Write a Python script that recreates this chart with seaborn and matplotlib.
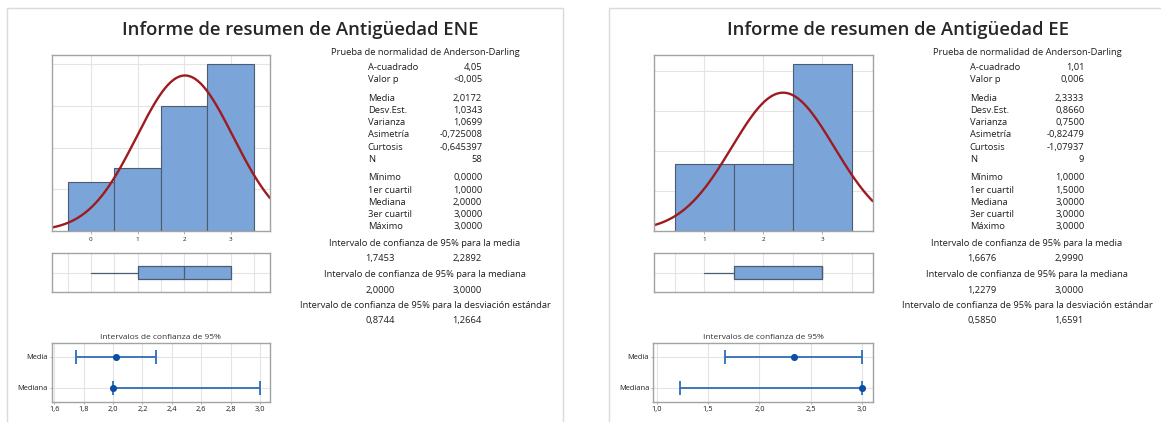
import numpy as np
import pandas as pd
import matplotlib
matplotlib.use("Agg")
import matplotlib.pyplot as plt
from matplotlib.patches import Rectangle
import seaborn as sns

sns.set_theme(style="white")
plt.rcParams["font.family"] = ["Open Sans", "DejaVu Sans"]

# ---------------- data ----------------
titles = ["Informe de resumen de Antigüedad ENE", "Informe de resumen de Antigüedad EE"]

ene_values = [0, 1, 2, 3]
ene_counts = [7, 9, 18, 24]
ee_values = [1, 2, 3]
ee_counts = [2, 2, 5]

ene_mean, ene_sd = 2.0172, 1.0343
ee_mean, ee_sd = 2.3333, 0.8660

# five-number summaries: min, Q1, median, Q3, max
ene_five = [0.0, 1.0, 2.0, 3.0, 3.0]
ee_five = [1.0, 1.5, 3.0, 3.0, 3.0]

# 95% confidence intervals (low, high) for mean and median
ene_ci_mean = [1.7453, 2.2892]
ene_ci_median = [2.0, 3.0]
ee_ci_mean = [1.6676, 2.9990]
ee_ci_median = [1.2279, 3.0]

ene_ci_sd = ["0,8744", "1,2664"]
ee_ci_sd = ["0,5850", "1,6591"]

ene_hist_grid = [6, 12, 18, 24]
ee_hist_grid = [1.2, 2.4, 3.6, 4.8]

ene_ci_ticks = [1.6, 1.8, 2.0, 2.2, 2.4, 2.6, 2.8, 3.0]
ee_ci_ticks = [1.0, 1.5, 2.0, 2.5, 3.0]

stat_groups_labels = [
    ["A-cuadrado", "Valor p"],
    ["Media", "Desv.Est.", "Varianza", "Asimetría", "Curtosis", "N"],
    ["Mínimo", "1er cuartil", "Mediana", "3er cuartil", "Máximo"],
]
ene_stat_values = [
    ["4,05", "<0,005"],
    ["2,0172", "1,0343", "1,0699", "-0,725008", "-0,645397", "58"],
    ["0,0000", "1,0000", "2,0000", "3,0000", "3,0000"],
]
ee_stat_values = [
    ["1,01", "0,006"],
    ["2,3333", "0,8660", "0,7500", "-0,82479", "-1,07937", "9"],
    ["1,0000", "1,5000", "3,0000", "3,0000", "3,0000"],
]
ci_headings = [
    "Intervalo de confianza de 95% para la media",
    "Intervalo de confianza de 95% para la mediana",
    "Intervalo de confianza de 95% para la desviación estándar",
]
ci_row_labels = ["Media", "Mediana"]

# ---------------- style ----------------
W, H = 1161, 422
BAR = "#7BA4D9"
BAR_EDGE = "#4B5B70"
CURVE = "#9E1C20"
CI_LINE = "#2F6DB5"
CI_DOT = "#0A4FA3"
GRID = "#E4E4E4"
FRAME = "#A3A3A3"
TEXT = "#1E1E1E"


def fx(x):
    return x / W


def fy(y):
    return 1 - y / H


def rect(x0, y0, x1, y1):
    return [fx(x0), fy(y1), (x1 - x0) / W, (y1 - y0) / H]


def frame(ax):
    for s in ax.spines.values():
        s.set_visible(True)
        s.set_color(FRAME)
        s.set_linewidth(1.0)


def fmt(v, nd):
    return f"{v:.{nd}f}".replace(".", ",")


fig = plt.figure(figsize=(W / 100, H / 100), dpi=100)
fig.patch.set_facecolor("white")

# panel outlines
fig.patches.append(Rectangle((fx(7), fy(430)), (563 - 7) / W, (430 - 8) / H,
                             transform=fig.transFigure, fill=False,
                             edgecolor="#DADADA", linewidth=1.0))
fig.patches.append(Rectangle((fx(609), fy(430)), (1170 - 609) / W, (430 - 8) / H,
                             transform=fig.transFigure, fill=False,
                             edgecolor="#DADADA", linewidth=1.0))

panels = [
    dict(values=ene_values, counts=ene_counts, mean=ene_mean, sd=ene_sd,
         five=ene_five, ci_mean=ene_ci_mean, ci_median=ene_ci_median,
         ci_sd=ene_ci_sd, grid=ene_hist_grid, ci_ticks=ene_ci_ticks,
         ci_nd=1, stats=ene_stat_values, title=titles[0],
         xlim=(-0.84, 3.84), ci_xlim=(1.582, 3.068), dx=0,
         hx=(51.7, 270), cx=(51.7, 270)),
    dict(values=ee_values, counts=ee_counts, mean=ee_mean, sd=ee_sd,
         five=ee_five, ci_mean=ee_ci_mean, ci_median=ee_ci_median,
         ci_sd=ee_ci_sd, grid=ee_hist_grid, ci_ticks=ee_ci_ticks,
         ci_nd=1, stats=ee_stat_values, title=titles[1],
         xlim=(0.15, 3.85), ci_xlim=(0.967, 3.107), dx=602,
         hx=(654, 872.7), cx=(653.3, 873.3)),
]

for p in panels:
    dx = p["dx"]
    n = sum(p["counts"])

    # title
    fig.text(fx(300 + dx * 0.993), fy(30), p["title"], ha="center", va="center",
             fontsize=13.3, fontweight="semibold", color="#262626")

    # ---------- histogram with fitted normal curve ----------
    axh = fig.add_axes(rect(p["hx"][0], 55, p["hx"][1], 231))
    freq = pd.DataFrame({"valor": p["values"], "frecuencia": p["counts"]})
    sns.histplot(data=freq, x="valor", weights="frecuencia", discrete=True,
                 ax=axh, color=BAR, edgecolor=BAR_EDGE, linewidth=0.8, alpha=1.0)
    xs = np.linspace(p["xlim"][0], p["xlim"][1], 400)
    ys = n * np.exp(-0.5 * ((xs - p["mean"]) / p["sd"]) ** 2) / (p["sd"] * np.sqrt(2 * np.pi))
    sns.lineplot(x=xs, y=ys, ax=axh, color=CURVE, linewidth=1.7)
    axh.set_xlim(*p["xlim"])
    top = max(p["counts"]) * 1.055
    axh.set_ylim(0, top)
    axh.set_xticks(p["values"])
    axh.set_xticklabels([str(v) for v in p["values"]])
    axh.set_yticks(p["grid"])
    axh.set_yticklabels([])
    axh.grid(True, color=GRID, linewidth=0.8)
    axh.set_axisbelow(True)
    axh.tick_params(axis="x", length=2, width=0.6, color=FRAME, labelsize=4.5,
                    pad=2, labelcolor=TEXT, bottom=True)
    axh.tick_params(axis="y", length=0)
    axh.set_xlabel("")
    axh.set_ylabel("")
    frame(axh)

    # ---------- box plot ----------
    axb = fig.add_axes(rect(p["hx"][0], 253.3, p["hx"][1], 291.7))
    mn, q1, med, q3, mx = p["five"]
    axb.bxp([dict(whislo=mn, q1=q1, med=med, q3=q3, whishi=mx, fliers=[])],
            positions=[0], widths=0.34, orientation="horizontal",
            patch_artist=True, showcaps=False,
            boxprops=dict(facecolor=BAR, edgecolor=BAR_EDGE, linewidth=0.9),
            medianprops=dict(color=BAR_EDGE, linewidth=0.9),
            whiskerprops=dict(color=BAR_EDGE, linewidth=0.9))
    axb.set_xlim(*p["xlim"])
    axb.set_ylim(-0.5, 0.5)
    axb.set_xticks(np.arange(np.ceil(p["xlim"][0] * 2) / 2, p["xlim"][1], 0.5))
    axb.set_yticks([0])
    axb.set_xticklabels([])
    axb.set_yticklabels([])
    axb.tick_params(length=0)
    axb.grid(True, color=GRID, linewidth=0.8)
    axb.set_axisbelow(True)
    frame(axb)

    # ---------- confidence intervals ----------
    axc = fig.add_axes(rect(p["cx"][0], 342.7, p["cx"][1], 401.7))
    pts = [p["mean"], p["five"][2]]
    los = [p["ci_mean"][0], p["ci_median"][0]]
    his = [p["ci_mean"][1], p["ci_median"][1]]
    ypos = [0, 1]
    axc.errorbar(pts, ypos,
                 xerr=[np.array(pts) - np.array(los), np.array(his) - np.array(pts)],
                 fmt="none", ecolor=CI_LINE, elinewidth=1.3, capsize=4.7,
                 capthick=1.3, zorder=3)
    sns.scatterplot(x=pts, y=ypos, ax=axc, color=CI_DOT, s=26,
                    edgecolor=CI_DOT, linewidth=0, zorder=4)
    axc.set_xlim(*p["ci_xlim"])
    axc.set_ylim(1.45, -0.45)
    axc.set_yticks(ypos)
    axc.set_yticklabels(ci_row_labels)
    axc.set_xticks(p["ci_ticks"])
    axc.set_xticklabels([fmt(t, p["ci_nd"]) for t in p["ci_ticks"]])
    axc.tick_params(axis="both", labelsize=5.4, length=1.5, width=0.6,
                    color=FRAME, pad=1.5, labelcolor=TEXT, left=True, bottom=True)
    axc.grid(True, color=GRID, linewidth=0.8)
    axc.set_axisbelow(True)
    axc.set_title("Intervalos de confianza de 95%", fontsize=6.0, color="#333333",
                  pad=3)
    frame(axc)

    # ---------- summary statistics ----------
    fs = 6.75
    fig.text(fx(425 + dx), fy(52.7), "Prueba de normalidad de Anderson-Darling",
             ha="center", va="center", fontsize=fs, color=TEXT)
    y = 67.7
    for gi, (labs, vals) in enumerate(zip(stat_groups_labels, p["stats"])):
        if gi > 0:
            y += 6.5
        for lab, val in zip(labs, vals):
            fig.text(fx(367.7 + dx), fy(y), lab, ha="left", va="center",
                     fontsize=fs, color=TEXT)
            fig.text(fx(482.3 + dx), fy(y), val, ha="right", va="center",
                     fontsize=fs, color=TEXT)
            y += 12.15

    ci_vals = [
        [fmt(p["ci_mean"][0], 4), fmt(p["ci_mean"][1], 4)],
        [fmt(p["ci_median"][0], 4), fmt(p["ci_median"][1], 4)],
        p["ci_sd"],
    ]
    yh = 243.3
    for head, (a, b) in zip(ci_headings, ci_vals):
        fig.text(fx(425 + dx), fy(yh), head, ha="center", va="center",
                 fontsize=fs, color=TEXT)
        fig.text(fx(380 + dx), fy(yh + 15.7), a, ha="center", va="center",
                 fontsize=fs, color=TEXT)
        fig.text(fx(466.7 + dx), fy(yh + 15.7), b, ha="center", va="center",
                 fontsize=fs, color=TEXT)
        yh += 31.0

fig.savefig("out.png", dpi=100, facecolor="white")
